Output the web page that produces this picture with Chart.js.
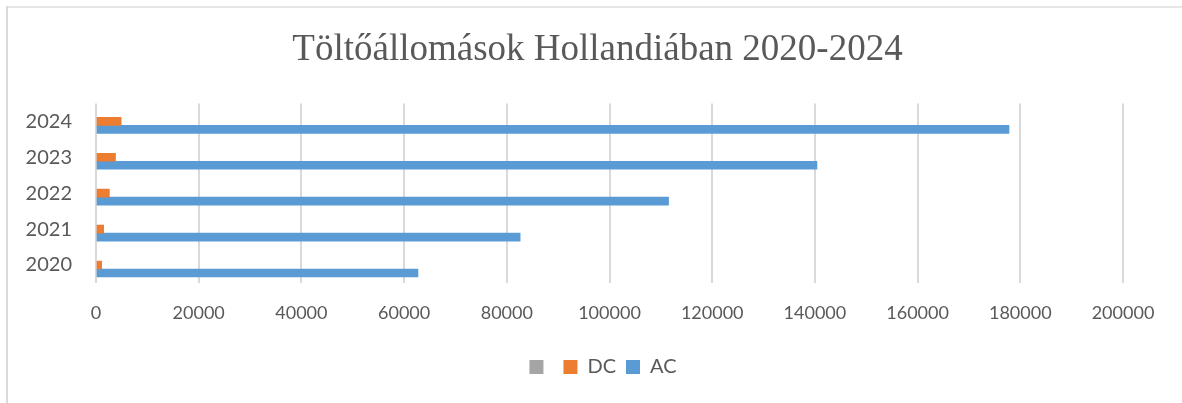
<!DOCTYPE html>
<html lang="hu">
<head>
<meta charset="utf-8">
<title>Töltőállomások Hollandiában 2020-2024</title>
<script src="https://cdn.jsdelivr.net/npm/chart.js@4/dist/chart.umd.min.js"></script>
<style>
    html, body { margin: 0; padding: 0; background: #fff; }
    #wrap { position: relative; width: 1182px; height: 403px; }
</style>
</head>
<body>
<div id="wrap"><canvas id="stationsChart" width="1182" height="403"></canvas></div>
<script>
// Évek felülről lefelé, ahogy a diagramon állnak
const years = ['2024', '2023', '2022', '2021', '2020'];
const acStations = [177800, 140400, 111500, 82600, 62700];
const dcStations = [4900, 3800, 2600, 1500, 1100];
const emptySeries = [null, null, null, null, null];
const xTicks = [0, 20000, 40000, 60000, 80000, 100000, 120000, 140000, 160000, 180000, 200000];

const TEXT_COLOR = '#595959';
const GRID_COLOR = '#d9d9d9';
const SANS = 'Lato, "Open Sans", sans-serif';

// keret a diagram körül (bal és felső szél)
const framePlugin = {
    id: 'frame',
    beforeDraw(chart) {
        const ctx = chart.ctx;
        ctx.save();
        ctx.fillStyle = '#e6e6e6';
        ctx.fillRect(7, 6, chart.width - 7, 2);
        ctx.fillStyle = '#d9d9d9';
        ctx.fillRect(6, 6, 2, chart.height - 6);
        ctx.restore();
    }
};

// cím és jelmagyarázat a teljes keret közepére kerül, ne csak a rajzterület fölé
const centerBlocks = {
    id: 'centerBlocks',
    afterLayout(chart) {
        if (chart.titleBlock) chart.titleBlock.left += 72;
        if (chart.legend) chart.legend.left += 83;
    }
};

const ctx = document.getElementById('stationsChart').getContext('2d');
new Chart(ctx, {
    type: 'bar',
    data: {
        labels: years,
        datasets: [
            { label: '', data: emptySeries, backgroundColor: '#a5a5a5' },
            { label: 'DC', data: dcStations, backgroundColor: '#ed7d31' },
            { label: 'AC', data: acStations, backgroundColor: '#5b9bd5' }
        ]
    },
    options: {
        indexAxis: 'y',
        responsive: false,
        animation: false,
        barThickness: 8,
        layout: { padding: { left: 0, right: 59, top: 0, bottom: 16 } },
        plugins: {
            title: {
                display: true,
                text: 'Töltőállomások Hollandiában 2020-2024',
                color: TEXT_COLOR,
                font: { family: '"Liberation Serif", "Times New Roman", serif', size: 37, weight: 'normal', lineHeight: 1.2 },
                padding: { top: 28, bottom: 31 }
            },
            legend: {
                position: 'bottom',
                labels: {
                    color: TEXT_COLOR,
                    font: { family: SANS, size: 20 },
                    boxWidth: 14,
                    boxHeight: 14,
                    padding: 10
                }
            },
            tooltip: { enabled: false }
        },
        scales: {
            x: {
                min: 0,
                max: 200000,
                afterBuildTicks(scale) {
                    scale.ticks = xTicks.map(v => ({ value: v }));
                },
                afterFit(scale) { scale.height = 64; },
                grid: { color: GRID_COLOR, lineWidth: 2, drawTicks: false },
                border: { display: false },
                ticks: {
                    color: TEXT_COLOR,
                    padding: 19,
                    font: { family: SANS, size: 18 },
                    callback: value => String(value)
                }
            },
            y: {
                afterFit(scale) { scale.width = 96; },
                grid: { display: false, drawTicks: false },
                border: { display: false },
                ticks: {
                    color: TEXT_COLOR,
                    padding: 24,
                    font: { family: SANS, size: 20 }
                }
            }
        }
    },
    plugins: [framePlugin, centerBlocks]
});
</script>
</body>
</html>
